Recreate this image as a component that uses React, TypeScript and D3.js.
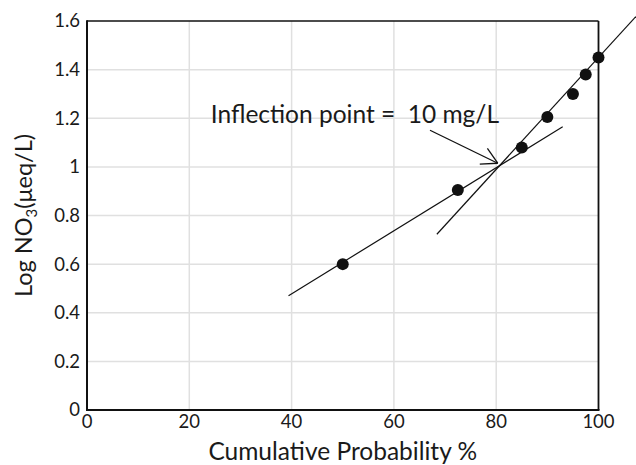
import React from "react";
import * as d3 from "d3";

const probability = [50, 72.5, 85, 90, 95, 97.5, 100];
const logNO3 = [0.6, 0.905, 1.08, 1.205, 1.3, 1.38, 1.45];

const xTicks = [0, 20, 40, 60, 80, 100];
const yTicks = [0, 0.2, 0.4, 0.6, 0.8, 1, 1.2, 1.4, 1.6];

const lowerFitX = [39.4, 93];
const lowerFitY = [0.47, 1.165];
const steepFitX = [68.4, 107.3];
const steepFitY = [0.723, 1.618];

const arrowX = [67.06, 80.3];
const arrowY = [1.1506, 1.015];

const annotation = "Inflection point =\u00a0\u00a010 mg/L";
const annotationPos = [24.2, 1.18];

const W = 636;
const H = 465;
const FONT = "Lato, 'Open Sans', sans-serif";

export default function App() {
  const x = d3.scaleLinear().domain([0, 100]).range([87, 598.5]);
  const y = d3.scaleLinear().domain([0, 1.6]).range([410, 21]);
  const line = d3
    .line<[number, number]>()
    .x((d) => x(d[0]))
    .y((d) => y(d[1]));

  const lowerPts = lowerFitX.map((v, i) => [v, lowerFitY[i]] as [number, number]);
  const steepPts = steepFitX.map((v, i) => [v, steepFitY[i]] as [number, number]);

  const ax0 = x(arrowX[0]);
  const ay0 = y(arrowY[0]);
  const ax1 = x(arrowX[1]);
  const ay1 = y(arrowY[1]);
  const ang = Math.atan2(ay0 - ay1, ax0 - ax1);
  const headLen = 18;
  const headAng = (29 * Math.PI) / 180;
  const h1 = [ax1 + headLen * Math.cos(ang + headAng), ay1 + headLen * Math.sin(ang + headAng)];
  const h2 = [ax1 + headLen * Math.cos(ang - headAng), ay1 + headLen * Math.sin(ang - headAng)];

  const [x0, x1] = x.range();
  const [yb, yt] = y.range();

  return (
    <svg
      width={W}
      height={H}
      style={{ position: "absolute", left: 0, top: 0, background: "#fff" }}
      fontFamily={FONT}
    >
      <rect x={0} y={0} width={W} height={H} fill="#fff" />
      {/* grid */}
      {xTicks.slice(1, -1).map((t) => (
        <line key={"gx" + t} x1={x(t)} x2={x(t)} y1={yt} y2={yb} stroke="#e0e0e0" strokeWidth={1.5} />
      ))}
      {yTicks.slice(1, -1).map((t) => (
        <line key={"gy" + t} x1={x0} x2={x1} y1={y(t)} y2={y(t)} stroke="#e0e0e0" strokeWidth={1.5} />
      ))}
      {/* frame */}
      <line x1={x0} x2={x1} y1={yt} y2={yt} stroke="#111" strokeWidth={1.5} />
      <line x1={x1} x2={x1} y1={yt} y2={yb} stroke="#111" strokeWidth={1.8} />
      <line x1={x0} x2={x0} y1={yt - 0.75} y2={yb + 1} stroke="#111" strokeWidth={2} />
      <line x1={x0 - 1} x2={x1 + 1} y1={yb} y2={yb} stroke="#111" strokeWidth={2} />

      {/* tick labels */}
      {xTicks.map((t) => (
        <text key={"tx" + t} x={x(t)} y={428} textAnchor="middle" fontSize={18.5} fill="#1a1a1a">
          {t}
        </text>
      ))}
      {yTicks.map((t) => (
        <text
          key={"ty" + t}
          x={80}
          y={y(t)}
          dy="0.35em"
          textAnchor="end"
          fontSize={18.5}
          fill="#1a1a1a"
        >
          {t === 0 ? "0" : t === 1 ? "1" : t.toFixed(1)}
        </text>
      ))}

      {/* axis titles */}
      <text x={(x0 + x1) / 2} y={460} textAnchor="middle" fontSize={24.5} fill="#1a1a1a">
        Cumulative Probability %
      </text>
      <text
        transform={`translate(32, ${(yt + yb) / 2}) rotate(-90)`}
        textAnchor="middle"
        fontSize={23.5}
        fill="#1a1a1a"
      >
        Log NO<tspan fontSize={15} dy={5}>3</tspan>
        <tspan dy={-5}>(μeq/L)</tspan>
      </text>

      {/* fit lines */}
      <path d={line(lowerPts) || ""} stroke="#111" strokeWidth={1.2} fill="none" />
      <path d={line(steepPts) || ""} stroke="#111" strokeWidth={1.2} fill="none" />

      {/* arrow */}
      <line x1={ax0} y1={ay0} x2={ax1} y2={ay1} stroke="#111" strokeWidth={1.3} />
      <line x1={ax1} y1={ay1} x2={h1[0]} y2={h1[1]} stroke="#111" strokeWidth={1.3} />
      <line x1={ax1} y1={ay1} x2={h2[0]} y2={h2[1]} stroke="#111" strokeWidth={1.3} />

      {/* annotation */}
      <text x={x(annotationPos[0])} y={y(annotationPos[1])} fontSize={24.5} fill="#1a1a1a">
        {annotation}
      </text>

      {/* points */}
      {probability.map((p, i) => (
        <circle key={"pt" + i} cx={x(p)} cy={y(logNO3[i])} r={6} fill="#111" />
      ))}
    </svg>
  );
}
